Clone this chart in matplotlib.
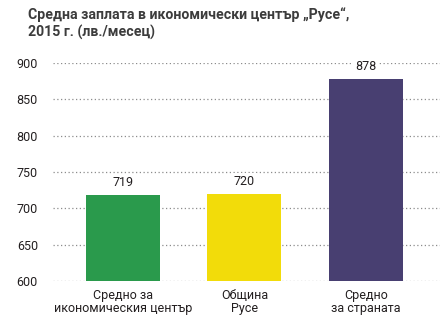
import matplotlib
matplotlib.use("Agg")
import matplotlib.pyplot as plt

categories = ["Средно за\nикономическия център", "Община\nРусе", "Средно\nза страната"]
values = [719, 720, 878]
colors = ["#2A9A4C", "#F2DC0A", "#483F71"]
yticks = [600, 650, 700, 750, 800, 850, 900]
title = "Средна заплата в икономически център „Русе“,\n2015 г. (лв./месец)"

plt.rcParams["font.family"] = ["Roboto", "DejaVu Sans"]
text_color = "#231F20"

fig = plt.figure(figsize=(4.43, 3.23), dpi=100)
ax = fig.add_axes([0.12, 0.130, 0.873, 0.675])

x = list(range(len(values)))
ax.bar(x, [v - yticks[0] for v in values], bottom=yticks[0], width=0.61,
       color=colors, zorder=3)

for xi, v in zip(x, values):
    ax.annotate(str(v), (xi, v), xytext=(0, 4), textcoords="offset points",
                ha="center", va="bottom", fontsize=9, color=text_color,
                bbox=dict(facecolor="white", edgecolor="none", pad=1.5),
                zorder=4)

ax.set_ylim(yticks[0], yticks[-1])
ax.set_xlim(-0.576, 2.61)
ax.set_yticks(yticks)
ax.set_xticks(x)
ax.set_xticklabels(categories, fontsize=9, color=text_color, linespacing=1.0)
ax.tick_params(axis="y", labelsize=9, labelcolor=text_color, length=0, pad=11)
ax.tick_params(axis="x", length=0, pad=6)
ax.grid(axis="y", linestyle=(0, (1, 2)), color="#8C8C8C", linewidth=0.9, zorder=0)
for s in ax.spines.values():
    s.set_visible(False)

fig.text(0.063, 0.978, title, ha="left", va="top", fontsize=10.2,
         fontweight="bold", color="#3C3C3C", linespacing=1.3)

fig.savefig("out.png", dpi=100)
